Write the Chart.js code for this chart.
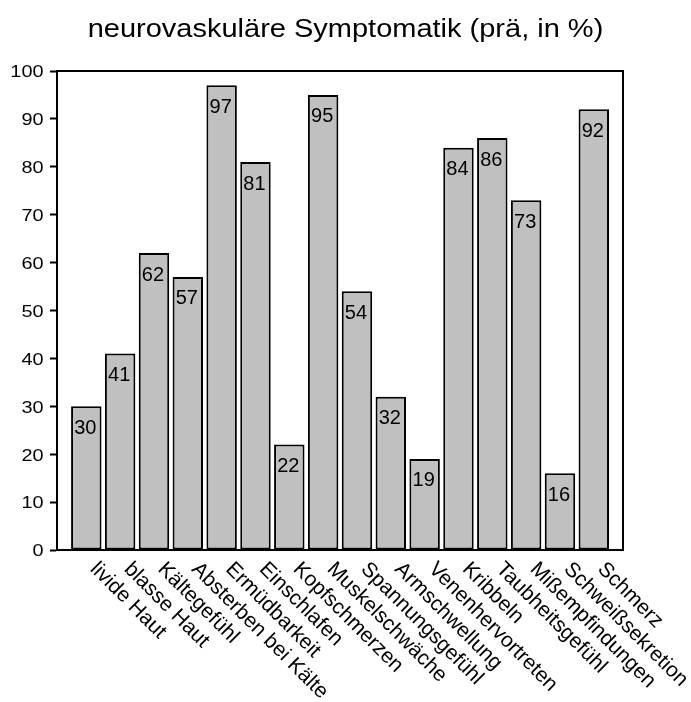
<!DOCTYPE html>
<html>
<head>
<meta charset="utf-8">
<script src="https://cdn.jsdelivr.net/npm/chart.js@4.4.0/dist/chart.umd.min.js"></script>
<style>
    html, body { margin: 0; padding: 0; background: #fff; }
    #wrap { width: 691px; height: 702px; position: relative; }
</style>
</head>
<body>
<div id="wrap"><canvas id="symptomChart"></canvas></div>
<script>
// Symptom names along the x axis and their share in percent.
var symptoms = [
    'livide Haut', 'blasse Haut', 'Kältegefühl', 'Absterben bei Kälte',
    'Ermüdbarkeit', 'Einschlafen', 'Kopfschmerzen', 'Muskelschwäche',
    'Spannungsgefühl', 'Armschwellung', 'Venenhervortreten', 'Kribbeln',
    'Taubheitsgefühl', 'Mißempfindungen', 'Schweißsekretion', 'Schmerz'
];
var percentages = [30, 41, 62, 57, 97, 81, 22, 95, 54, 32, 19, 84, 86, 73, 16, 92];
var yTicks = [0, 10, 20, 30, 40, 50, 60, 70, 80, 90, 100];
var chartTitle = 'neurovaskuläre Symptomatik (prä, in %)';

var FONT = '"Liberation Sans", Arial, sans-serif';

// Draw text squeezed/stretched horizontally around its anchor.
function stretchedText(ctx, text, x, y, sx, align) {
    ctx.save();
    ctx.translate(x, y);
    ctx.scale(sx, 1);
    ctx.textAlign = align;
    ctx.fillText(text, 0, 0);
    ctx.restore();
}

// Frame, title, tick labels, bar values and slanted category names.
var textPlugin = {
    id: 'symptomText',
    afterDraw: function(chart) {
        var ctx = chart.ctx;
        var area = chart.chartArea;
        var xScale = chart.scales.x;
        var yScale = chart.scales.y;
        var bars = chart.getDatasetMeta(0).data;

        ctx.save();
        ctx.strokeStyle = '#000';
        ctx.lineWidth = 2;
        ctx.strokeRect(area.left, area.top, area.right - area.left, area.bottom - area.top);

        ctx.fillStyle = '#000';
        ctx.textBaseline = 'alphabetic';

        ctx.font = '26px ' + FONT;
        stretchedText(ctx, chartTitle, chart.width / 2, 37, 1.115, 'center');

        ctx.font = '17px ' + FONT;
        yTicks.forEach(function(v) {
            stretchedText(ctx, String(v), area.left - 13.5, yScale.getPixelForValue(v) + 6.3, 1.17, 'right');
        });

        ctx.font = '20px ' + FONT;
        bars.forEach(function(bar, i) {
            ctx.textAlign = 'center';
            ctx.fillText(String(percentages[i]), bar.x - 1, bar.y + 27.5);
        });

        ctx.font = '21px ' + FONT;
        symptoms.forEach(function(name, i) {
            var px = xScale.getPixelForValue(i);
            ctx.save();
            ctx.translate(px + 3, area.bottom + 20);
            ctx.rotate(Math.PI / 4);
            ctx.textAlign = 'left';
            ctx.fillText(name, 0, 0);
            ctx.restore();
        });
        ctx.restore();
    }
};

var ctx = document.getElementById('symptomChart').getContext('2d');
new Chart(ctx, {
    type: 'bar',
    data: {
        datasets: [{
            data: percentages.map(function(v, i) { return { x: i, y: v }; }),
            backgroundColor: '#c0c0c0',
            borderColor: '#000',
            borderWidth: 2,
            borderSkipped: false,
            barPercentage: 0.9,
            categoryPercentage: 1
        }]
    },
    options: {
        responsive: true,
        maintainAspectRatio: false,
        animation: false,
        layout: { padding: { left: 0, top: 71, right: 68, bottom: 0 } },
        plugins: {
            legend: { display: false },
            title: { display: false },
            tooltip: {
                callbacks: {
                    title: function(items) { return symptoms[items[0].parsed.x]; }
                }
            }
        },
        scales: {
            x: {
                type: 'linear',
                offset: false,
                min: -0.866,
                max: 15.863,
                afterBuildTicks: function(scale) {
                    scale.ticks = symptoms.map(function(s, i) { return { value: i }; });
                },
                afterFit: function(scale) { scale.height = 152; },
                ticks: { display: false },
                grid: { display: false },
                border: { display: true, color: '#000', width: 2 }
            },
            y: {
                min: 0,
                max: 100,
                afterBuildTicks: function(scale) {
                    scale.ticks = yTicks.map(function(v) { return { value: v }; });
                },
                afterFit: function(scale) { scale.width = 57; },
                ticks: { display: false },
                grid: {
                    display: true,
                    drawOnChartArea: false,
                    drawTicks: true,
                    tickLength: 7,
                    tickWidth: 2,
                    tickColor: '#000'
                },
                border: { display: true, color: '#000', width: 2 }
            }
        }
    },
    plugins: [textPlugin]
});
</script>
</body>
</html>
